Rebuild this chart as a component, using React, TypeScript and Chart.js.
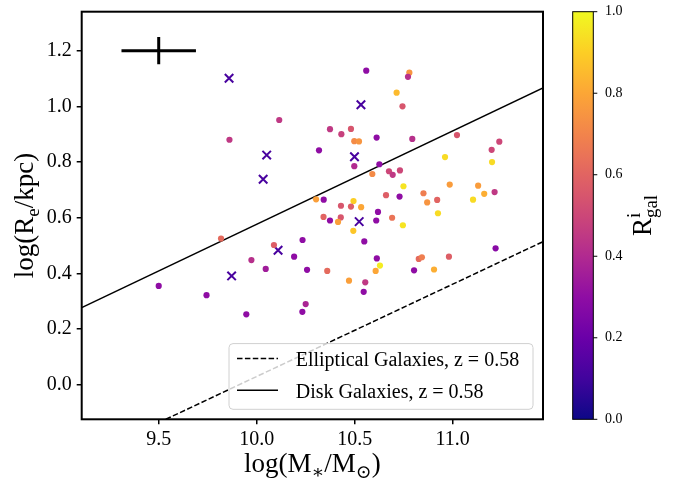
import React, { useEffect, useRef } from 'react';
import { Chart, registerables } from 'chart.js';

Chart.register(...registerables);

const FONT = '"Liberation Serif", "DejaVu Serif", serif';

// axis ranges and ticks
const X_RANGE = [9.107, 11.461];
const Y_RANGE = [-0.124, 1.34];
const X_TICKS = [9.5, 10.0, 10.5, 11.0];
const Y_TICKS = [0.0, 0.2, 0.4, 0.6, 0.8, 1.0, 1.2];
const CBAR_TICKS = [0.0, 0.2, 0.4, 0.6, 0.8, 1.0];

// galaxies shown as dots: stellar mass, effective radius, R_gal^i
const DOT_MASS = [
  10.115, 9.861, 10.374, 10.432, 10.481, 10.498, 10.522, 10.612, 10.559, 10.714,
  10.779, 10.772, 10.744, 10.794, 11.022, 11.238, 11.199, 10.961, 11.201, 10.318,
  10.498, 10.626, 10.590, 10.675, 10.694, 10.731, 10.749, 10.660, 10.729, 10.851,
  10.870, 10.921, 10.985, 11.130, 11.161, 11.214, 11.104, 10.925, 10.303, 10.342,
  10.494, 10.430, 10.481, 10.533, 10.619, 10.341, 10.429, 10.374, 10.415, 10.610,
  10.691, 10.746, 10.493, 10.234, 10.549, 9.818, 10.088, 10.191, 9.973, 10.046,
  10.257, 10.360, 10.613, 10.629, 10.607, 10.827, 10.843, 10.981, 11.219, 10.803,
  10.905, 10.471, 10.554, 10.546, 10.250, 10.233, 9.500, 9.744, 9.947,
];
const DOT_RADIUS = [
  0.951, 0.880, 0.918, 0.900, 0.919, 0.875, 0.874, 0.888, 1.128, 1.049,
  1.121, 1.106, 1.000, 0.883, 0.897, 0.873, 0.844, 0.818, 0.800, 0.842,
  0.785, 0.792, 0.757, 0.767, 0.754, 0.770, 0.713, 0.681, 0.676, 0.688,
  0.655, 0.664, 0.719, 0.715, 0.686, 0.692, 0.665, 0.616, 0.666, 0.665,
  0.660, 0.643, 0.640, 0.638, 0.621, 0.603, 0.601, 0.590, 0.585, 0.590,
  0.600, 0.573, 0.553, 0.520, 0.515, 0.525, 0.502, 0.460, 0.448, 0.416,
  0.413, 0.409, 0.454, 0.428, 0.409, 0.452, 0.458, 0.460, 0.490, 0.411,
  0.414, 0.374, 0.368, 0.334, 0.290, 0.262, 0.355, 0.322, 0.253,
];
const DOT_RGAL = [
  0.45, 0.45, 0.45, 0.48, 0.55, 0.72, 0.75, 0.30, 0.30, 0.85,
  0.75, 0.42, 0.55, 0.42, 0.55, 0.50, 0.50, 0.93, 0.93, 0.30,
  0.40, 0.30, 0.72, 0.50, 0.45, 0.50, 0.95, 0.58, 0.30, 0.68,
  0.75, 0.60, 0.77, 0.77, 0.82, 0.45, 0.93, 0.93, 0.78, 0.30,
  0.90, 0.55, 0.58, 0.80, 0.30, 0.60, 0.55, 0.30, 0.78, 0.30,
  0.65, 0.95, 0.88, 0.30, 0.30, 0.62, 0.58, 0.30, 0.42, 0.35,
  0.30, 0.62, 0.30, 0.97, 0.80, 0.62, 0.68, 0.58, 0.28, 0.30,
  0.82, 0.78, 0.45, 0.30, 0.38, 0.30, 0.30, 0.30, 0.30,
];

// galaxies shown as crosses
const CROSS_MASS = [9.859, 10.532, 10.051, 10.033, 10.499, 10.523, 10.109, 9.872];
const CROSS_RADIUS = [1.101, 1.006, 0.825, 0.738, 0.819, 0.586, 0.483, 0.391];
const CROSS_RGAL = [0.12, 0.12, 0.12, 0.12, 0.12, 0.12, 0.12, 0.12];

// relations (end points)
const DISK_X = [9.107, 11.461];
const DISK_Y = [0.277, 1.066];
const ELL_X = [9.536, 11.461];
const ELL_Y = [-0.124, 0.514];
const LEGEND_LABELS = ['Elliptical Galaxies, z = 0.58', 'Disk Galaxies, z = 0.58'];

// typical error bar
const ERR_X = 9.5;
const ERR_Y = 1.2;
const ERR_DX = 0.19;
const ERR_DY = 0.049;

const PLASMA = [
  [13, 8, 135], [65, 4, 157], [106, 0, 168], [143, 13, 164], [177, 42, 144],
  [204, 71, 120], [225, 100, 98], [242, 132, 75], [252, 166, 54], [252, 206, 37], [240, 249, 33],
];
function plasma(v: number): string {
  const t = Math.max(0, Math.min(1, v)) * (PLASMA.length - 1);
  const i = Math.min(PLASMA.length - 2, Math.floor(t));
  const f = t - i;
  const a = PLASMA[i], b = PLASMA[i + 1];
  const c = a.map((av, k) => Math.round(av + (b[k] - av) * f));
  return `rgb(${c[0]},${c[1]},${c[2]})`;
}

type Seg = { t: string; k?: 'sub' | 'sup'; na?: boolean };
function drawRich(ctx: CanvasRenderingContext2D, segs: Seg[], x: number, y: number, size: number) {
  const widths = segs.map((s) => {
    ctx.font = `${s.k ? size * 0.7 : size}px ${FONT}`;
    return ctx.measureText(s.t).width;
  });
  let total = 0;
  segs.forEach((s, i) => { if (!s.na) total += widths[i]; });
  let cx = x - total / 2;
  ctx.textAlign = 'left';
  ctx.textBaseline = 'alphabetic';
  segs.forEach((s, i) => {
    ctx.font = `${s.k ? size * 0.7 : size}px ${FONT}`;
    const dy = s.k === 'sub' ? size * 0.22 : s.k === 'sup' ? -size * 0.42 : 0;
    ctx.fillText(s.t, cx, y + dy);
    if (!s.na) cx += widths[i];
  });
}

const overlay = {
  id: 'overlay',
  afterDatasetsDraw(chart: any) {
    const { ctx, chartArea: a, scales } = chart;
    const xs = scales.x, ys = scales.y;
    ctx.save();
    ctx.fillStyle = '#000';
    ctx.strokeStyle = '#000';

    // error bar cross
    ctx.lineWidth = 3;
    ctx.beginPath();
    const ex = xs.getPixelForValue(ERR_X), ey = ys.getPixelForValue(ERR_Y);
    ctx.moveTo(xs.getPixelForValue(ERR_X - ERR_DX), ey);
    ctx.lineTo(xs.getPixelForValue(ERR_X + ERR_DX), ey);
    ctx.moveTo(ex, ys.getPixelForValue(ERR_Y - ERR_DY));
    ctx.lineTo(ex, ys.getPixelForValue(ERR_Y + ERR_DY));
    ctx.stroke();

    // legend
    const lw = 304, lh = 65.7;
    const lx = a.right - 10 - lw, ly = a.bottom - 10 - lh;
    const r = 4;
    ctx.beginPath();
    ctx.moveTo(lx + r, ly);
    ctx.lineTo(lx + lw - r, ly);
    ctx.arcTo(lx + lw, ly, lx + lw, ly + r, r);
    ctx.lineTo(lx + lw, ly + lh - r);
    ctx.arcTo(lx + lw, ly + lh, lx + lw - r, ly + lh, r);
    ctx.lineTo(lx + r, ly + lh);
    ctx.arcTo(lx, ly + lh, lx, ly + lh - r, r);
    ctx.lineTo(lx, ly + r);
    ctx.arcTo(lx, ly, lx + r, ly, r);
    ctx.closePath();
    ctx.fillStyle = 'rgba(255,255,255,0.8)';
    ctx.fill();
    ctx.strokeStyle = '#d0d0d0';
    ctx.lineWidth = 1;
    ctx.stroke();
    ctx.strokeStyle = '#000';
    ctx.fillStyle = '#000';
    const rows = [ly + 15, ly + 46.7];
    ctx.lineWidth = 1.5;
    rows.forEach((ry, i) => {
      ctx.setLineDash(i === 0 ? [5.5, 2.4] : []);
      ctx.beginPath();
      ctx.moveTo(lx + 8, ry);
      ctx.lineTo(lx + 49, ry);
      ctx.stroke();
      ctx.setLineDash([]);
      ctx.font = `20px ${FONT}`;
      ctx.textAlign = 'left';
      ctx.textBaseline = 'alphabetic';
      ctx.fillText(LEGEND_LABELS[i], lx + 66.7, ry + 7.3);
    });

    // frame
    ctx.lineWidth = 2;
    ctx.strokeRect(a.left, a.top, a.right - a.left, a.bottom - a.top);

    // axis titles
    drawRich(ctx, [{ t: 'log(M' }, { t: '\u2217', k: 'sub' }, { t: '/M' }, { t: '\u2299', k: 'sub' }, { t: ')' }],
      (a.left + a.right) / 2, 472, 27);
    ctx.save();
    ctx.translate(33, (a.top + a.bottom) / 2);
    ctx.rotate(-Math.PI / 2);
    drawRich(ctx, [{ t: 'log(R' }, { t: 'e', k: 'sub' }, { t: '/kpc)' }], 0, 0, 27);
    ctx.restore();

    // colorbar
    const cbL = a.right + 29.7, cbW = 20.6;
    const g = ctx.createLinearGradient(0, a.bottom, 0, a.top);
    for (let i = 0; i <= 20; i++) g.addColorStop(i / 20, plasma(i / 20));
    ctx.fillStyle = g;
    ctx.fillRect(cbL, a.top, cbW, a.bottom - a.top);
    ctx.lineWidth = 1;
    ctx.strokeStyle = '#000';
    ctx.strokeRect(cbL, a.top, cbW, a.bottom - a.top);
    ctx.fillStyle = '#000';
    ctx.font = `14px ${FONT}`;
    ctx.textAlign = 'left';
    ctx.textBaseline = 'middle';
    CBAR_TICKS.forEach((v) => {
      const yy = a.bottom - v * (a.bottom - a.top);
      ctx.beginPath();
      ctx.moveTo(cbL + cbW, yy);
      ctx.lineTo(cbL + cbW + 4, yy);
      ctx.stroke();
      ctx.fillText(v.toFixed(1), cbL + cbW + 11.7, yy);
    });
    ctx.save();
    ctx.translate(651, (a.top + a.bottom) / 2);
    ctx.rotate(-Math.PI / 2);
    drawRich(ctx, [{ t: 'R' }, { t: 'i', k: 'sup', na: true }, { t: 'gal', k: 'sub' }], 0, 0, 27);
    ctx.restore();

    ctx.restore();
  },
};

export default function App() {
  const ref = useRef<HTMLCanvasElement | null>(null);
  useEffect(() => {
    if (!ref.current) return;
    const dots = DOT_MASS.map((m, i) => ({ x: m, y: DOT_RADIUS[i] }));
    const crosses = CROSS_MASS.map((m, i) => ({ x: m, y: CROSS_RADIUS[i] }));
    const tickFont = { family: FONT, size: 20 };
    const chart = new Chart(ref.current, {
      type: 'scatter',
      data: {
        datasets: [
          {
            label: 'dots',
            data: dots,
            pointStyle: 'circle',
            pointRadius: 3.1,
            pointBorderWidth: 0,
            pointBackgroundColor: DOT_RGAL.map(plasma),
            pointBorderColor: DOT_RGAL.map(plasma),
          } as any,
          {
            label: 'crosses',
            data: crosses,
            pointStyle: 'crossRot',
            pointRadius: 6,
            pointBorderWidth: 2,
            pointBorderColor: CROSS_RGAL.map(plasma),
            pointBackgroundColor: CROSS_RGAL.map(plasma),
          } as any,
          {
            label: LEGEND_LABELS[1],
            data: DISK_X.map((x, i) => ({ x, y: DISK_Y[i] })),
            showLine: true,
            pointRadius: 0,
            borderColor: '#000',
            borderWidth: 1.5,
          } as any,
          {
            label: LEGEND_LABELS[0],
            data: ELL_X.map((x, i) => ({ x, y: ELL_Y[i] })),
            showLine: true,
            pointRadius: 0,
            borderColor: '#000',
            borderWidth: 1.5,
            borderDash: [5.5, 2.4],
          } as any,
        ],
      },
      options: {
        responsive: false,
        animation: false,
        devicePixelRatio: 1,
        layout: { padding: { left: 0, top: 11.7, right: 130, bottom: 0 } },
        plugins: { legend: { display: false }, tooltip: { enabled: false } },
        scales: {
          x: {
            type: 'linear',
            min: X_RANGE[0],
            max: X_RANGE[1],
            afterFit: (s: any) => { s.height = 61.7; s.paddingLeft = 0; s.paddingRight = 0; },
            afterBuildTicks: (s: any) => { s.ticks = X_TICKS.map((v) => ({ value: v })); },
            ticks: {
              font: tickFont, color: '#000', padding: 3, maxRotation: 0, autoSkip: false,
              callback: (v: any) => Number(v).toFixed(1),
            },
            grid: { drawOnChartArea: false, drawTicks: true, tickLength: 5, color: '#000', lineWidth: 1.5 },
            border: { display: false },
          },
          y: {
            type: 'linear',
            min: Y_RANGE[0],
            max: Y_RANGE[1],
            afterFit: (s: any) => { s.width = 81.7; s.paddingTop = 0; s.paddingBottom = 0; },
            afterBuildTicks: (s: any) => { s.ticks = Y_TICKS.map((v) => ({ value: v })); },
            ticks: {
              font: tickFont, color: '#000', padding: 5, autoSkip: false,
              callback: (v: any) => Number(v).toFixed(1),
            },
            grid: { drawOnChartArea: false, drawTicks: true, tickLength: 5, color: '#000', lineWidth: 1.5 },
            border: { display: false },
          },
        },
      } as any,
      plugins: [overlay],
    });
    return () => chart.destroy();
  }, []);
  return (
    <div style={{ position: 'fixed', left: 0, top: 0, width: 673, height: 481, background: '#fff' }}>
      <canvas ref={ref} width={673} height={481} style={{ display: 'block' }} />
    </div>
  );
}
